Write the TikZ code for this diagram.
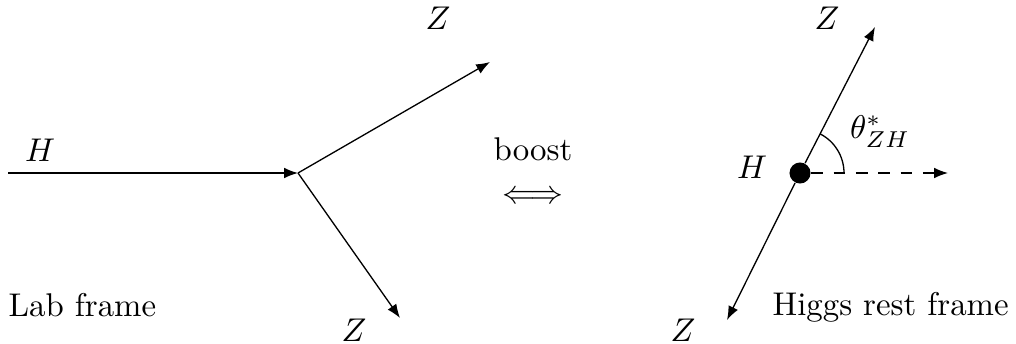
\documentclass[tikz,border=0pt]{standalone}
\usepackage{amsmath}
\usetikzlibrary{arrows.meta, positioning}

\begin{document}
\begin{tikzpicture}[
  x=0.0107cm, y=0.0107cm,
  arrow/.style={-{Latex[length=4.2pt, width=3.2pt]}},
  lbl/.style={inner sep=0pt},
  dasharrow/.style={arrow, dash pattern=on 3.6pt off 3.2pt}
]
\useasboundingbox (0,0) rectangle (1016,343);

% lab frame
\coordinate (hin) at (8,170);
\coordinate (vtx) at (298,170);
\coordinate (zup) at (490,281);
\coordinate (zdown) at (400,25);
\node[lbl] (hlab) at (40,193) {$H$};
\node[lbl] (zuplab) at (438,325) {$Z$};
\node[lbl] (zdownlab) at (354,13) {$Z$};
\node[lbl, anchor=base west] (lab) at (8,27) {Lab frame};

\draw[arrow] (hin) -- (vtx);
\draw[arrow] (vtx) -- (zup);
\draw[arrow] (vtx) -- (zdown);

% boost
\node[lbl] (boost) at (533,194) {boost};
\node[lbl] (iff) at (533,146) {$\Longleftrightarrow$};

% rest frame
\node[circle, fill, inner sep=0pt, minimum size=16\pgflinewidth] (dot) at (800,170) {};
\coordinate (ztop) at (875,316);
\coordinate (zbot) at (727,23);
\coordinate (axis) at (948,170);
\node[lbl] (hrest) at (752,176) {$H$};
\node[lbl] (ztoplab) at (827,325) {$Z$};
\node[lbl] (zbotlab) at (683,13) {$Z$};
\node[lbl] (theta) at (880,211) {$\theta^*_{ZH}$};
\node[lbl, anchor=base west] (rest) at (772,28) {Higgs rest frame};

\draw[arrow] (dot) -- (ztop);
\draw[arrow] (dot) -- (zbot);
\draw[dasharrow] (dot.east) -- (axis);
\draw (844,170) arc[start angle=0, end angle=63, radius=44];

\end{tikzpicture}
\end{document}
